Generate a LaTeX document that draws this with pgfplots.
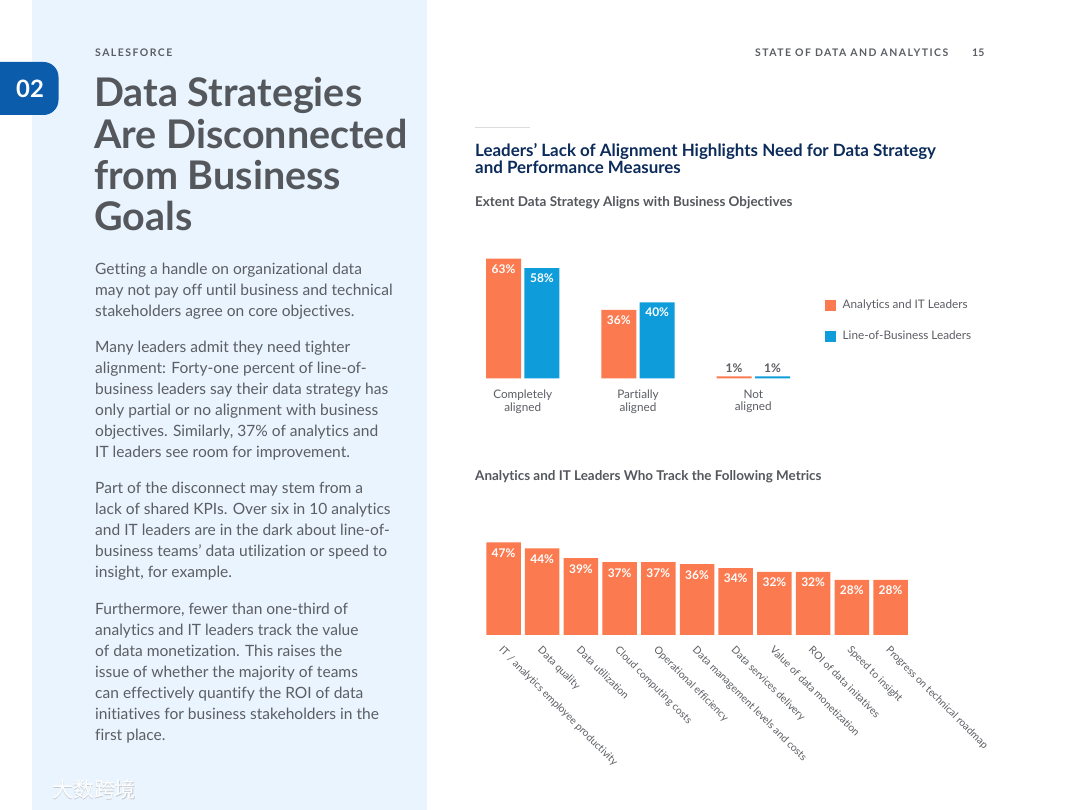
\documentclass[border=0pt]{standalone}
\usepackage{fontspec}
\setmainfont{Lato}[Ligatures=NoCommon]
\newfontfamily\spaced[LetterSpace=14]{Lato}
\newfontfamily\cjk{Noto Sans CJK SC}
\usepackage{pgfplots}
\usepackage{pgfplotstable}
\pgfplotsset{compat=1.18}
\definecolor{panel}{HTML}{EAF4FE}
\definecolor{tabblue}{HTML}{0B5CAB}
\definecolor{titlegray}{HTML}{54575C}
\definecolor{bodygray}{HTML}{5B5E63}
\definecolor{navy}{HTML}{0B2B5B}
\definecolor{orangec}{HTML}{FB7A50}
\definecolor{bluec}{HTML}{0E9DDA}
\definecolor{lightline}{HTML}{DADCDF}
\newcommand{\fs}[2]{\fontsize{#1}{#2}\selectfont}
\pgfplotstableread{
x a b
0 63 58
1 36 40
2 1 1
}\alignment
\pgfplotstableread{
x v
0 47
1 44
2 39
3 37
4 37
5 36
6 34
7 32
8 32
9 28
10 28
}\metrics
\begin{document}
\begin{tikzpicture}[x=1bp,y=1bp]
\useasboundingbox (0,0) rectangle (1080,810);
\clip (0,0) rectangle (1080,810);
\fill[white] (0,0) rectangle (1080,810);
\fill[panel] (32,0) rectangle (427,810);
\fill[tabblue, rounded corners=15bp] (-30,695) rectangle (58.5,748);
\node[text=white, font=\bfseries\fs{24}{24}] at (30,721.5) {02};
\node[anchor=base west, inner sep=0, text=bodygray, font=\spaced\bfseries\fs{10.5}{12}] at (95,753) {SALESFORCE};
\node[anchor=base west, inner sep=0, text=bodygray, font=\spaced\bfseries\fs{10.5}{12}] at (755,753) {STATE OF DATA AND ANALYTICS};
\node[anchor=base west, inner sep=0, text=bodygray, font=\bfseries\fs{10.5}{12}] at (972,753) {15};
\begin{scope}[every node/.style={anchor=base west, inner sep=0, text=titlegray, font=\bfseries\fs{39.6}{41}}]
\node at (94,703) {Data Strategies};
\node at (94,661.5) {Are Disconnected};
\node at (94,620) {from Business};
\node at (94,579) {Goals};
\end{scope}
\begin{scope}[every node/.style={anchor=base west, inner sep=0, text=bodygray, font=\fs{15.6}{20}}]
\node at (95,535.5) {Getting a handle on organizational data};
\node at (95,514.5) {may not pay off until business and technical};
\node at (95,493.5) {stakeholders agree on core objectives.};
\node at (95,457) {Many leaders admit they need tighter};
\node at (95,436) {alignment: Forty-one percent of line-of-};
\node at (95,415) {business leaders say their data strategy has};
\node at (95,394.5) {only partial or no alignment with business};
\node at (95,373.5) {objectives. Similarly, 37\% of analytics and};
\node at (95,352.5) {IT leaders see room for improvement.};
\node at (95,316) {Part of the disconnect may stem from a};
\node at (95,295) {lack of shared KPIs. Over six in 10 analytics};
\node at (95,274) {and IT leaders are in the dark about line-of-};
\node at (95,253) {business teams’ data utilization or speed to};
\node at (95,232) {insight, for example.};
\node at (95,195.5) {Furthermore, fewer than one-third of};
\node at (95,174.5) {analytics and IT leaders track the value};
\node at (95,153.5) {of data monetization. This raises the};
\node at (95,132.5) {issue of whether the majority of teams};
\node at (95,111.5) {can effectively quantify the ROI of data};
\node at (95,90.5) {initiatives for business stakeholders in the};
\node at (95,69.5) {first place.};
\end{scope}
\draw[lightline, line width=1bp] (475,682) -- (530,682);
\node[anchor=base west, inner sep=0, text=navy, font=\bfseries\fs{17}{18}] at (475,653.3) {Leaders’ Lack of Alignment Highlights Need for Data Strategy};
\node[anchor=base west, inner sep=0, text=navy, font=\bfseries\fs{17}{18}] at (475,636) {and Performance Measures};
\node[anchor=base west, inner sep=0, text=titlegray, font=\bfseries\fs{13.5}{14}] at (475,603) {Extent Data Strategy Aligns with Business Objectives};
\node[anchor=base west, inner sep=0, text=titlegray, font=\bfseries\fs{13.5}{14}] at (475,329) {Analytics and IT Leaders Who Track the Following Metrics};
% watermark
\node[anchor=base west, inner sep=0, text=gray, opacity=0.35, font=\cjk\fs{21}{21}] at (52.8,11.2) {大数跨境};
\node[anchor=base west, inner sep=0, text=white, font=\cjk\fs{21}{21}] at (52,12) {大数跨境};
\coordinate (AxOne) at (465.05,431.7);
\coordinate (AxTwo) at (484.15,175);

\begin{axis}[
  at={(AxOne)}, anchor=south west,
  scale only axis, width=345.9bp, height=133bp,
  xmin=-0.5, xmax=2.5, ymin=0, ymax=70,
  axis line style={draw=none}, tick style={draw=none},
  ytick=\empty, xtick={0,1,2},
  xticklabels={{Completely\\aligned},{Partially\\aligned},{Not\\aligned}},
  xticklabel style={align=center, font=\fs{11.8}{12.5}, text=bodygray, yshift=-4bp},
  ybar, bar width=35bp,
  visualization depends on={value \coordindex \as \idx},
  nodes near coords={\ifnum\idx=2 \raisebox{9.5bp}[0pt][0pt]{\textcolor{bodygray}{\pgfmathprintnumber{\pgfplotspointmeta}\%}}\else\pgfmathprintnumber{\pgfplotspointmeta}\%\fi},
  nodes near coords style={anchor=north, yshift=-4.5bp, inner sep=1bp, font=\bfseries\fs{12}{12}, text=white},
  /pgf/number format/assume math mode=true,
  clip=false,
  legend style={draw=none, fill=none, at={(1.0406,0.6038)}, anchor=north west, inner sep=0pt,
     font=\fs{11.8}{13}, text=bodygray, row sep=17bp,
     /tikz/every odd column/.append style={column sep=5bp}},
  legend cell align=left,
  legend image code/.code={\fill[#1] (0bp,-5.3bp) rectangle (10.5bp,5.3bp);},
]
\addplot[fill=orangec, draw=none, bar shift=-19.2bp] table[x=x,y=a]{\alignment};
\addlegendentry{Analytics and IT Leaders}
\addplot[fill=bluec, draw=none, bar shift=19.2bp] table[x=x,y=b]{\alignment};
\addlegendentry{Line-of-Business Leaders}
\end{axis}

\begin{axis}[
  at={(AxTwo)}, anchor=south west,
  scale only axis, width=425.7bp, height=98.5bp,
  xmin=-0.5, xmax=10.5, ymin=0, ymax=50,
  axis line style={draw=none}, tick style={draw=none},
  ytick=\empty, xtick={0,...,10},
  xticklabels={IT / analytics employee productivity, Data quality, Data utilization, Cloud computing costs, Operational efficiency, Data management levels and costs, Data services delivery, Value of data monetization, ROI of data initatives, Speed to insight, Progress on technical roadmap},
  xticklabel style={font=\fs{10.4}{12}, text=bodygray, inner sep=0pt, xshift=0.5bp, yshift=-6bp, rotate=-45, anchor=north west},
  ybar, bar width=34.5bp,
  nodes near coords={\pgfmathprintnumber{\pgfplotspointmeta}\%},
  nodes near coords style={anchor=north, yshift=-5bp, inner sep=1bp, font=\bfseries\fs{12}{12}, text=white},
  /pgf/number format/assume math mode=true,
  clip=false,
]
\addplot[fill=orangec, draw=none, bar shift=0bp] table[x=x,y=v]{\metrics};
\end{axis}
\end{tikzpicture}
\end{document}
